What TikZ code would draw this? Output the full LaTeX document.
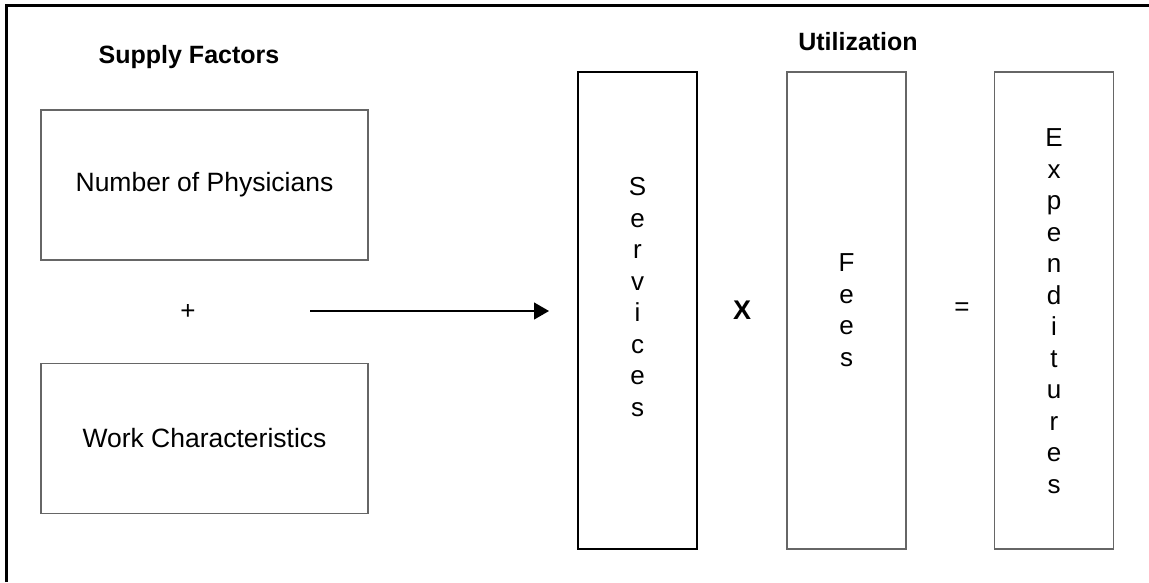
\documentclass[tikz,border=0pt]{standalone}
\usepackage{fontspec}
\setmainfont{Liberation Sans}
\usetikzlibrary{arrows.meta}
\begin{document}
\begin{tikzpicture}[x=1pt,y=-1pt,
  hbox/.style={draw=black!60, line width=1.1pt, minimum width=327pt, minimum height=150pt, inner sep=0pt,
    font=\fontsize{26.5}{30}\selectfont},
  vbox/.style={draw=black!60, line width=1.1pt, minimum width=119pt, minimum height=477pt, inner sep=0pt},
  vtext/.style={align=center, inner sep=0pt, font=\fontsize{26}{31.5}\selectfont},
  head/.style={inner sep=0pt, font=\fontsize{25}{30}\selectfont\bfseries},
  sym/.style={inner sep=0pt, font=\fontsize{26}{30}\selectfont},
  conn/.style={line width=1.2pt, -{Triangle[length=15pt,width=17pt]}}]
\useasboundingbox (0,0) rectangle (1149,582);
\draw[line width=3pt] (6,582) -- (6,5) -- (1149,5);
\node[head] (supply) at (189,57) {Supply Factors};
\node[head] (util) at (858,42) {Utilization};
\node[hbox] (phys) at (204.5,185) {Number of Physicians};
\node[hbox] (work) at (204.5,438.5) {Work Characteristics};
\node[sym] (plus) at (188,312) {+};
\coordinate (arrS) at (310,311);
\coordinate (arrE) at (549,311);
\draw[conn] (arrS) -- (arrE);
\node[vbox, draw=black] (serv) at (637.5,310.5) {};
\node[vbox] (fees) at (846.5,310.5) {};
\node[vbox] (expe) at (1054,310.5) {};
\node[vtext] (servT) at (637.5,297) {S\\e\\r\\v\\i\\c\\e\\s};
\node[vtext] (feesT) at (846.5,310) {F\\e\\e\\s};
\node[vtext] (expeT) at (1054,311) {E\\x\\p\\e\\n\\d\\i\\t\\u\\r\\e\\s};
\node[sym, font=\fontsize{27}{30}\selectfont\bfseries] (times) at (742,310) {X};
\node[sym] (eq) at (962,309) {=};
\end{tikzpicture}
\end{document}
